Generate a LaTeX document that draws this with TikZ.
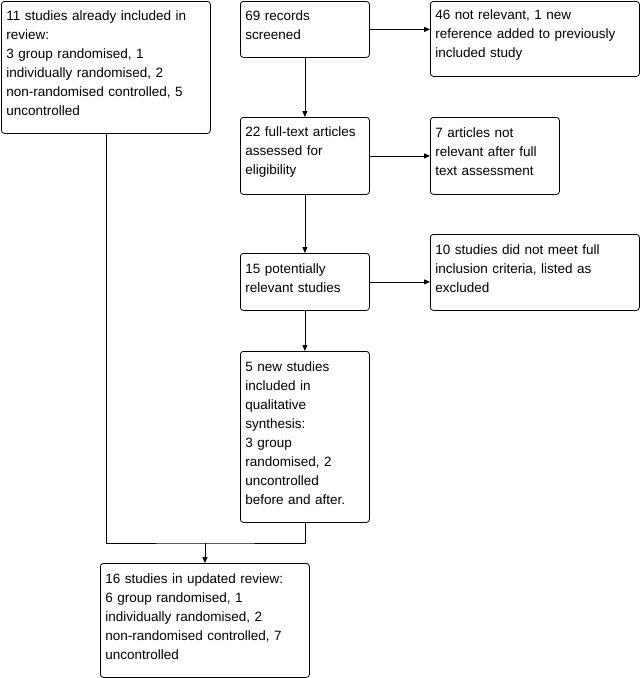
\documentclass[tikz,border=0pt]{standalone}
\usepackage{fontspec}
\setmainfont{Liberation Sans}
\usetikzlibrary{arrows.meta,positioning}
\tikzset{
  prnode/.style={
    draw, rounded corners=3pt, anchor=north west, align=left,
    inner xsep=5pt, inner ysep=0pt, line width=0.8pt,
    font=\fontsize{13.5}{19}\selectfont,
    execute at end node={\par\vspace*{8pt}}
  },
  widebox/.style={prnode, text width=199pt},
  narrowbox/.style={prnode, text width=119pt},
  prline/.style={line width=0.8pt},
  prarrow/.style={prline, -{Triangle[length=6pt, width=5pt]}}
}
\begin{document}
\begin{tikzpicture}[x=1pt, y=-1pt]
  \useasboundingbox (0,0) rectangle (642,678);
  % boxes
  \node[widebox, minimum height=132pt] (prior) at (1,1)
    {11 studies already included in\\review:\\3 group randomised, 1\\individually randomised, 2\\non-randomised controlled, 5\\uncontrolled};
  \node[narrowbox, minimum height=56pt] (screened) at (240,1)
    {69 records\\screened};
  \node[widebox, minimum height=75pt] (notrel) at (430,1)
    {46 not relevant, 1 new\\reference added to previously\\included study};
  \node[narrowbox, minimum height=77pt] (fulltext) at (240,117)
    {22 full-text articles\\assessed for\\eligibility};
  \node[narrowbox, minimum height=77pt] (ftexcl) at (430,117)
    {7 articles not\\relevant after full\\text assessment};
  \node[narrowbox, minimum height=57pt] (potential) at (240,253)
    {15 potentially\\relevant studies};
  \node[widebox, minimum height=76pt] (excluded) at (430,234)
    {10 studies did not meet full\\inclusion criteria, listed as\\excluded};
  \node[narrowbox, minimum height=171pt] (newstud) at (240,351)
    {5 new studies\\included in\\qualitative\\synthesis:\\3 group\\randomised, 2\\uncontrolled\\before and after.};
  \node[widebox, minimum height=114pt] (updated) at (100,563)
    {16 studies in updated review:\\6 group randomised, 1\\individually randomised, 2\\non-randomised controlled, 7\\uncontrolled};
  % connectors
  \draw[prarrow] (screened.east) -- (screened.east -| notrel.west);
  \draw[prarrow] (screened) -- (fulltext);
  \draw[prarrow] (fulltext) -- (ftexcl);
  \draw[prarrow] (fulltext) -- (potential);
  \draw[prarrow] (potential.east) -- (potential.east -| excluded.west);
  \draw[prarrow] (potential) -- (newstud);
  \coordinate (merge) at (updated.north |- 0,543);
  \draw[prline] (prior.south) |- (merge) -| (newstud.south);
  \draw[prarrow] (merge) -- (updated.north);
\end{tikzpicture}
\end{document}
